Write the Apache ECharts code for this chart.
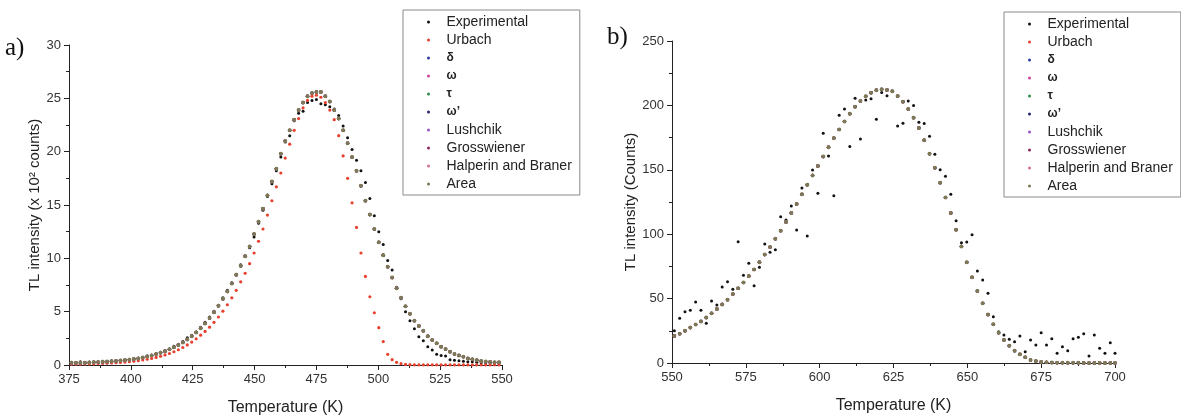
<!DOCTYPE html>
<html>
<head>
<meta charset="utf-8">
<script src="https://cdn.jsdelivr.net/npm/echarts@6/dist/echarts.min.js"></script>
<style>
  html, body { margin: 0; padding: 0; background: #fff; }
  #chart { width: 1181px; height: 419px; }
</style>
</head>
<body>
<div id="chart"></div>
<script>
// ---- panel a) ----
const tempsA = [
  376.0, 377.8, 379.6, 381.4, 383.2, 385.0, 386.8, 388.6, 390.4, 392.2,
  394.0, 395.8, 397.6, 399.4, 401.2, 403.0, 404.8, 406.6, 408.4, 410.2,
  412.0, 413.8, 415.6, 417.4, 419.2, 421.0, 422.8, 424.6, 426.4, 428.2,
  430.0, 431.8, 433.6, 435.4, 437.2, 439.0, 440.8, 442.6, 444.4, 446.2,
  448.0, 449.8, 451.6, 453.4, 455.2, 457.0, 458.8, 460.6, 462.4, 464.2,
  466.0, 467.8, 469.6, 471.4, 473.2, 475.0, 476.8, 478.6, 480.4, 482.2,
  484.0, 485.8, 487.6, 489.4, 491.2, 493.0, 494.8, 496.6, 498.4, 500.2,
  502.0, 503.8, 505.6, 507.4, 509.2, 511.0, 512.8, 514.6, 516.4, 518.2,
  520.0, 521.8, 523.6, 525.4, 527.2, 529.0, 530.8, 532.6, 534.4, 536.2,
  538.0, 539.8, 541.6, 543.4, 545.2, 547.0, 548.8
]
const expA = [
  0.25, 0.2, 0.3, 0.2, 0.25, 0.3, 0.25, 0.35, 0.3, 0.4,
  0.35, 0.45, 0.45, 0.55, 0.6, 0.6, 0.7, 0.85, 0.9, 1.05,
  1.2, 1.35, 1.5, 1.75, 1.95, 2.2, 2.55, 2.8, 3.1, 3.55,
  4.0, 4.5, 5.05, 5.6, 6.3, 7.0, 7.7, 8.5, 9.4, 10.2,
  11.0, 12.0, 13.3, 14.5, 15.8, 17.0, 18.2, 19.5, 20.9, 21.5,
  22.9, 23.6, 23.8, 24.6, 24.8, 24.9, 24.5, 24.4, 24.2, 24.0,
  23.4, 22.4, 21.3, 20.2, 19.2, 18.2, 17.1, 15.6, 14.0, 12.5,
  11.3, 9.8, 8.9, 7.3, 6.2, 5.0, 4.15, 3.4, 2.65, 2.28,
  1.72, 1.4, 1.0, 0.9, 0.85, 0.5, 0.45, 0.4, 0.35, 0.3,
  0.3, 0.25, 0.22, 0.2, 0.2, 0.18, 0.15
]
const urbachA = [
  0.06, 0.07, 0.08, 0.09, 0.1, 0.11, 0.13, 0.15, 0.17, 0.19,
  0.21, 0.24, 0.27, 0.31, 0.36, 0.41, 0.47, 0.54, 0.62, 0.71,
  0.82, 0.94, 1.08, 1.24, 1.43, 1.64, 1.88, 2.15, 2.45, 2.8,
  3.15, 3.55, 4.0, 4.5, 5.05, 5.65, 6.3, 7.0, 7.8, 8.6,
  9.5, 10.5, 11.6, 12.75, 14.06, 15.4, 16.7, 18.0, 19.4, 20.7,
  22.0, 23.1, 24.1, 24.8, 25.2, 25.3, 25.1, 24.6, 23.9, 23.0,
  21.5, 19.6, 17.5, 15.2, 12.9, 10.5, 8.3, 6.4, 4.9, 3.5,
  2.2, 1.0, 0.5, 0.25, 0.12, 0.05, 0.03, 0.02, 0.02, 0.02,
  0.02, 0.02, 0.02, 0.02, 0.02, 0.02, 0.02, 0.02, 0.02, 0.02,
  0.02, 0.02, 0.02, 0.02, 0.02, 0.02, 0.02
]
const fitA = [
  0.2, 0.2, 0.2, 0.22, 0.24, 0.26, 0.28, 0.3, 0.32, 0.35,
  0.38, 0.42, 0.46, 0.5, 0.56, 0.62, 0.7, 0.8, 0.9, 1.02,
  1.15, 1.3, 1.47, 1.66, 1.88, 2.12, 2.4, 2.7, 3.05, 3.45,
  3.9, 4.4, 4.95, 5.55, 6.2, 6.9, 7.65, 8.45, 9.3, 10.2,
  11.1, 12.28, 13.44, 14.66, 15.9, 17.2, 18.4, 19.8, 21.0, 22.0,
  23.0, 23.9, 24.6, 25.2, 25.5, 25.6, 25.6, 25.2, 24.7, 23.9,
  23.1, 22.0, 20.8, 19.5, 18.2, 16.8, 15.4, 14.1, 12.75, 11.5,
  10.3, 9.2, 8.2, 7.2, 6.3, 5.5, 4.8, 4.15, 3.66, 3.2,
  2.7, 2.34, 2.03, 1.72, 1.5, 1.25, 1.03, 0.9, 0.78, 0.62,
  0.53, 0.45, 0.37, 0.32, 0.29, 0.26, 0.25
]

// ---- panel b) ----
const tempsB = [
  550.8, 552.6, 554.4, 556.2, 558.0, 559.8, 561.6, 563.4, 565.2, 567.0,
  568.8, 570.6, 572.4, 574.2, 576.0, 577.8, 579.6, 581.4, 583.2, 585.0,
  586.8, 588.6, 590.4, 592.2, 594.0, 595.8, 597.6, 599.4, 601.2, 603.0,
  604.8, 606.6, 608.4, 610.2, 612.0, 613.8, 615.6, 617.4, 619.2, 621.0,
  622.8, 624.6, 626.4, 628.2, 630.0, 631.8, 633.6, 635.4, 637.2, 639.0,
  640.8, 642.6, 644.4, 646.2, 648.0, 649.8, 651.6, 653.4, 655.2, 657.0,
  658.8, 660.6, 662.4, 664.2, 666.0, 667.8, 669.6, 671.4, 673.2, 675.0,
  676.8, 678.6, 680.4, 682.2, 684.0, 685.8, 687.6, 689.4, 691.2, 693.0,
  694.8, 696.6, 698.4, 700.0
]
const expB = [
  25.0, 34.7, 39.8, 40.9, 47.4, 40.9, 30.8, 48.1, 45.0, 59.0,
  63.1, 57.2, 94.2, 68.1, 77.4, 60.0, 74.3, 92.4, 86.0, 88.0,
  113.6, 111.0, 121.9, 103.3, 135.9, 98.6, 149.8, 131.7, 178.3, 160.7,
  129.9, 192.3, 197.2, 168.0, 205.5, 173.9, 204.2, 205.2, 189.2, 210.0,
  207.5, 211.4, 184.0, 186.1, 203.4, 200.0, 187.0, 186.0, 176.0, 162.0,
  150.0, 145.0, 131.0, 110.5, 93.4, 94.0, 99.6, 71.4, 64.4, 54.1,
  36.0, 24.3, 21.7, 18.4, 16.5, 21.0, 8.8, 17.9, 14.0, 23.5,
  14.0, 18.9, 7.5, 12.7, 9.6, 18.9, 20.0, 22.7, 5.4, 21.7,
  11.4, 7.5, 15.8, 7.5
]
const fitB = [
  21.0, 22.8, 25.0, 27.5, 29.9, 32.3, 35.3, 38.6, 42.0, 45.5,
  49.2, 53.5, 58.0, 62.5, 67.5, 72.6, 78.3, 84.2, 90.0, 96.4,
  102.7, 109.5, 116.5, 123.5, 131.0, 138.3, 145.6, 153.0, 160.3, 167.6,
  174.6, 181.3, 187.5, 193.5, 199.0, 203.4, 207.1, 209.9, 211.8, 212.5,
  212.0, 210.9, 207.3, 202.9, 197.2, 190.5, 182.5, 173.0, 162.5, 151.5,
  140.0, 128.5, 116.5, 103.5, 90.5, 78.2, 66.5, 55.9, 46.4, 37.6,
  30.0, 23.5, 17.9, 13.4, 9.6, 6.8, 4.4, 2.3, 1.5, 0.8,
  0.5, 0.35, 0.25, 0.2, 0.15, 0.12, 0.1, 0.08, 0.06, 0.05,
  0.04, 0.03, 0.03, 0.02
]

const legendNames = ['Experimental', 'Urbach', 'δ', 'ω', 'τ', 'ω’', 'Lushchik', 'Grosswiener', 'Halperin and Braner', 'Area']
const legendColors = ['#111111', '#e8402e', '#2b3a9e', '#d2439a', '#2f8a45', '#23236e', '#9a55c4', '#8c2561', '#d0708c', '#7d7856']
const greekNames = ['δ', 'ω', 'τ', 'ω’']

const FONT = 'Liberation Sans, Arial, sans-serif'

function zip(xs, ys) {
  return xs.map((x, i) => [x, ys[i]])
}

function makeSeries(gridIdx, exp, urbach, fit, temps) {
  const list = []
  legendNames.forEach((name, i) => {
    let values = fit
    if (i === 0) values = exp
    else if (i === 1) values = urbach
    let size = 3.2
    if (i === 0) size = 3
    if (name === 'Area') size = 4
    list.push({
      name: name,
      type: 'scatter',
      xAxisIndex: gridIdx,
      yAxisIndex: gridIdx,
      data: zip(temps, values),
      symbol: 'circle',
      symbolSize: size,
      itemStyle: { color: legendColors[i], opacity: 1 },
      emphasis: { disabled: true },
      animation: false
    })
  })
  return list
}

function axisCommon() {
  return {
    type: 'value',
    axisLine: { show: true, onZero: false, lineStyle: { color: '#222', width: 1 } },
    axisTick: { show: true, inside: false, length: 5, lineStyle: { color: '#222' } },
    minorTick: { show: true, splitNumber: 2, length: 3, lineStyle: { color: '#222' } },
    splitLine: { show: false },
    minorSplitLine: { show: false },
    axisLabel: { color: '#333', fontSize: 13, fontFamily: FONT, margin: 8 },
    nameLocation: 'middle',
    nameTextStyle: { color: '#222', fontFamily: FONT }
  }
}

function makeLegend(left, top) {
  return {
    orient: 'vertical',
    left: left,
    top: top,
    data: legendNames,
    icon: 'circle',
    itemWidth: 26,
    itemHeight: 3,
    itemGap: 2,
    padding: [4, 8, 3, 24],
    borderColor: '#8a8a8a',
    borderWidth: 1,
    backgroundColor: '#fff',
    selectedMode: false,
    textStyle: {
      color: '#222',
      fontSize: 14,
      fontFamily: FONT,
      lineHeight: 16,
      rich: {
        g: { fontSize: 12, fontWeight: 'bold', fontFamily: FONT, lineHeight: 16, color: '#222' }
      }
    },
    formatter: function (name) {
      return greekNames.includes(name) ? '{g|' + name + '}' : name
    }
  }
}

const chart = echarts.init(document.getElementById('chart'), null, { renderer: 'canvas' })

const option = {
  backgroundColor: '#fff',
  animation: false,
  grid: [
    { left: 69, top: 45, width: 433, height: 320, outerBoundsMode: 'none' },
    { left: 672, top: 41, width: 443, height: 322, outerBoundsMode: 'none' }
  ],
  xAxis: [
    Object.assign(axisCommon(), {
      gridIndex: 0, min: 375, max: 550, interval: 25,
      name: 'Temperature (K)', nameGap: 35,
      nameTextStyle: { color: '#222', fontFamily: FONT, fontSize: 16 }
    }),
    Object.assign(axisCommon(), {
      gridIndex: 1, min: 550, max: 700, interval: 25,
      name: 'Temperature (K)', nameGap: 35,
      nameTextStyle: { color: '#222', fontFamily: FONT, fontSize: 16 }
    })
  ],
  yAxis: [
    Object.assign(axisCommon(), {
      gridIndex: 0, min: 0, max: 30, interval: 5,
      name: 'TL intensity (x 10² counts)', nameGap: 26,
      nameTextStyle: { color: '#222', fontFamily: FONT, fontSize: 15 }
    }),
    Object.assign(axisCommon(), {
      gridIndex: 1, min: 0, max: 250, interval: 50,
      name: 'TL intensity (Counts)', nameGap: 28,
      nameTextStyle: { color: '#222', fontFamily: FONT, fontSize: 15 }
    })
  ],
  legend: [makeLegend(403, 10), makeLegend(1004, 12)],
  graphic: [
    { type: 'text', left: 5, top: 36, style: { text: 'a)', fontSize: 25, fontFamily: 'Liberation Serif, Times New Roman, serif', fill: '#111' } },
    { type: 'text', left: 607, top: 25, style: { text: 'b)', fontSize: 25, fontFamily: 'Liberation Serif, Times New Roman, serif', fill: '#111' } }
  ],
  series: makeSeries(0, expA, urbachA, fitA, tempsA)
    .concat(makeSeries(1, expB, fitB, fitB, tempsB))
}

chart.setOption(option)
</script>
</body>
</html>
